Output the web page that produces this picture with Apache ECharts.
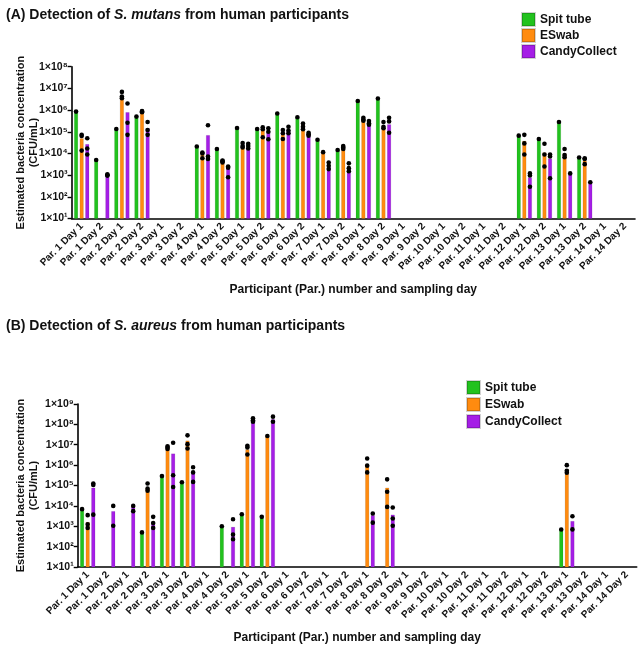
<!DOCTYPE html>
<html>
<head>
<meta charset="utf-8">
<script src="https://cdn.jsdelivr.net/npm/echarts@6/dist/echarts.min.js"></script>
<style>
html,body{margin:0;padding:0;background:#fff;}
#chart{width:640px;height:649px;}
</style>
</head>
<body>
<div id="chart"></div>
<script>
// categories
var cats = ['Par. 1 Day 1','Par. 1 Day 2','Par. 2 Day 1','Par. 2 Day 2','Par. 3 Day 1','Par. 3 Day 2',
    'Par. 4 Day 1','Par. 4 Day 2','Par. 5 Day 1','Par. 5 Day 2','Par. 6 Day 1','Par. 6 Day 2',
    'Par. 7 Day 1','Par. 7 Day 2','Par. 8 Day 1','Par. 8 Day 2','Par. 9 Day 1','Par. 9 Day 2',
    'Par. 10 Day 1','Par. 10 Day 2','Par. 11 Day 1','Par. 11 Day 2','Par. 12 Day 1','Par. 12 Day 2',
    'Par. 13 Day 1','Par. 13 Day 2','Par. 14 Day 1','Par. 14 Day 2'];
var seriesNames = ['Spit tube','ESwab','CandyCollect'];

// (A) S. mutans - bar heights (CFU/mL)
var mutansSpit = [8.5e5,5e3,1.35e5,5e5,null,null,2.1e4,1.6e4,1.5e5,1.35e5,7e5,4.7e5,4.3e4,1.45e4,2.6e6,3.4e6,
    null,null,null,null,null,null,6.6e4,4.6e4,2.8e5,6.5e3,null,null];
var mutansESwab = [5e4,null,4.2e6,8.5e5,null,null,9e3,4.3e3,1.9e4,1.3e5,9e4,2.2e5,1.15e4,2.1e4,3.5e5,1.5e5,
    null,null,null,null,null,null,3.8e4,1.1e4,1e4,4.6e3,null,null];
var mutansCandy = [2.7e4,1e3,8e5,1.45e5,null,null,7e4,2.1e3,1.9e4,1e5,1.1e5,8.5e4,2.5e3,2.3e3,2.6e5,2.2e5,
    null,null,null,null,null,null,7.8e2,5.8e3,1.2e3,4.7e2,null,null];
// (A) individual replicates
var mutansESwabPts = [[7.2e4,6.4e4,1.35e4],[],[6.9e6,4.2e6,3.5e6],[9e5,8.5e5,8e5],[],[],
    [1.1e4,1e4,6e3],[4.7e3,4.4e3,3.8e3],[3e4,2.2e4,1.9e4],[1.6e5,1.3e5,5.6e4],[1.2e5,8.6e4,4.6e4],[2.4e5,1.7e5,1.3e5],
    [1.15e4],[2.2e4,1.9e4,1.6e4],[4.4e5,3.7e5,3.2e5],[2.8e5,1.7e5,1.45e5],[],[],[],[],[],[],
    [7.2e4,2.9e4,9e3],[2.8e4,9e3,2.5e3],[1.6e4,8.5e3,6.7e3],[6e3,5.5e3,3.2e3],[],[]];
var mutansCandyPts = [[5e4,1.7e4,9e3],[1.1e3,1e3,9.5e2],[2e6,2.6e5,7.2e4],[2.8e5,1.2e5,7.2e4],[],[],
    [2e5,7.2e3,5.6e3],[2.5e3,2.2e3,8e2],[2.8e4,2.2e4,1.7e4],[1.45e5,1e5,4.5e4],[1.7e5,1.15e5,8.6e4],[9e4,7.7e4,6.5e4],
    [3.8e3,2.7e3,1.9e3],[3.5e3,2.1e3,1.5e3],[3.1e5,2.5e5,2.1e5],[4.4e5,3e5,9e4],[],[],[],[],[],[],
    [1.2e3,9.6e2,2.9e2],[9e3,7.2e3,7.2e2],[1.2e3],[4.7e2],[],[]];

// (B) S. aureus - bar heights (CFU/mL)
var aureusSpit = [6.9e3,null,null,5e2,2.9e5,1.45e5,null,1e3,3.9e3,2.9e3,null,null,null,null,null,null,
    null,null,null,null,null,null,null,null,6.9e2,null,null,null];
var aureusESwab = [1.6e3,null,null,7.8e4,7.4e6,1.6e7,null,null,5.9e6,2.7e7,null,null,null,null,1.1e6,7.8e4,
    null,null,null,null,null,null,null,null,6.3e5,null,null,null];
var aureusCandy = [7.8e4,5.5e3,1e4,1.45e3,3.7e6,4.7e5,null,9.3e2,1.45e8,1.8e8,null,null,null,null,3.5e3,3.7e3,
    null,null,null,null,null,null,null,null,1.8e3,null,null,null];
// (B) individual replicates
var aureusESwabPts = [[3.5e3,1.26e3,8.3e2],[],[],[1.26e5,7e4,5.5e4],[8.5e6,7.4e6,6.2e6],[2.9e7,1.07e7,6.6e6],
    [],[],[8.9e6,7.4e6,3.3e6],[2.7e7],[],[],[],[],[2.1e6,9.4e5,4.4e5],[2e5,4.9e4,8.9e3],
    [],[],[],[],[],[],[],[],[1e6,5.3e5,4.2e5],[],[],[]];
var aureusCandyPts = [[1.26e5,1.05e5,3.7e3],[1e4,1.05e3],[1e4,5.5e3],[2.9e3,1.45e3,8.3e2],[1.26e7,3.2e5,8.5e4],[7.8e5,4.4e5,1.5e5],
    [],[2.2e3,3.9e2,2.3e2],[2e8,1.6e8,1.35e8],[2.4e8,1.35e8],[],[],[],[],[4.2e3,1.5e3],[8.3e3,2.4e3,1.05e3],
    [],[],[],[],[],[],[],[],[3.1e3,7e2],[],[],[]];

var colors = ['#22c21e','#ff8b0f','#a51ee6'];
var FONT = 'Liberation Sans, Arial, DejaVu Sans, sans-serif';
var SUP = {'0':'⁰','1':'¹','2':'²','3':'³','4':'⁴','5':'⁵','6':'⁶','7':'⁷','8':'⁸','9':'⁹'};

function expLabel(v) {
    var e = Math.round(Math.log(v) / Math.LN10);
    return '1×10' + String(e).split('').map(function (d) { return SUP[d]; }).join('');
}

// 把每个样本点做成 [类别, 值, 偏移]
function dots(spit, eswabPts, candyPts) {
    var out = [];
    for (var i = 0; i < cats.length; i++) {
        if (spit[i] != null) out.push([i, spit[i], -1]);
        eswabPts[i].forEach(function (v) { out.push([i, v, 0]); });
        candyPts[i].forEach(function (v) { out.push([i, v, 1]); });
    }
    return out;
}

function renderDot(params, api) {
    var p = api.coord([api.value(0), api.value(1)]);
    return {
        type: 'circle',
        shape: { cx: p[0] + api.value(2) * 5.6, cy: p[1], r: 2.3 },
        style: { fill: '#000' }
    };
}

function xAxisCfg(gi) {
    return {
        type: 'category', gridIndex: gi, data: cats,
        axisLine: { lineStyle: { color: '#000', width: 1.6 } },
        axisTick: { alignWithLabel: true, length: 4, lineStyle: { color: '#000', width: 1.4 } },
        axisLabel: { rotate: 45, interval: 0, fontSize: 10, fontWeight: 'bold', color: '#111', fontFamily: FONT, margin: 6 },
        name: 'Participant (Par.) number and sampling day', nameLocation: 'middle', nameGap: 65,
        nameTextStyle: { fontSize: 12, fontWeight: 'bold', color: '#111', fontFamily: FONT }
    };
}

function yAxisCfg(gi, maxV, gap) {
    return {
        type: 'log', logBase: 10, gridIndex: gi, min: 10, max: maxV,
        splitNumber: 8,
        axisLine: { show: true, lineStyle: { color: '#000', width: 1.6 } },
        axisTick: { show: true, length: 4, lineStyle: { color: '#000', width: 1.4 } },
        splitLine: { show: false },
        minorTick: { show: false },
        axisLabel: { formatter: expLabel, fontSize: 10.5, fontWeight: 'bold', color: '#111', fontFamily: FONT, margin: 4 },
        name: 'Estimated bacteria concentration\n(CFU/mL)', nameLocation: 'middle', nameGap: gap, nameRotate: 90,
        nameMoveOverlap: false,
        nameTextStyle: { fontSize: 11, fontWeight: 'bold', color: '#111', fontFamily: FONT, lineHeight: 13 }
    };
}

function barSeries(name, data, ax, ci) {
    return {
        name: name, type: 'bar', xAxisIndex: ax, yAxisIndex: ax, data: data,
        barWidth: 4, barGap: '40%',
        itemStyle: { color: colors[ci], borderColor: 'rgba(0,0,0,0.18)', borderWidth: 0.5 }
    };
}

var legendBase = {
    data: seriesNames, orient: 'vertical', icon: 'rect', itemWidth: 13, itemHeight: 13, itemGap: 2,
    padding: 0,
    textStyle: { fontSize: 12, fontWeight: 'bold', color: '#111', fontFamily: FONT, lineHeight: 14 }
};

var myChart = echarts.init(document.getElementById('chart'));
var option = {
    animation: false,
    color: colors,
    title: [{
        text: '{n|(A) Detection of }{i|S. mutans}{n| from human participants}',
        left: 1, top: 3,
        textStyle: { rich: {
            n: { fontSize: 14, color: '#111', fontFamily: FONT },
            i: { fontSize: 14, color: '#111', fontFamily: FONT, fontStyle: 'italic' }
        } }
    }, {
        text: '{n|(B) Detection of }{i|S. aureus}{n| from human participants}',
        left: 1, top: 314,
        textStyle: { rich: {
            n: { fontSize: 14, color: '#111', fontFamily: FONT },
            i: { fontSize: 14, color: '#111', fontFamily: FONT, fontStyle: 'italic' }
        } }
    }],
    legend: [
        Object.assign({}, legendBase, { left: 521, top: 12, itemGap: 1 }),
        Object.assign({}, legendBase, { left: 466, top: 380 })
    ],
    grid: [
        { left: 71.6, top: 66.7, width: 563.4, height: 151.8, containLabel: false, outerBoundsMode: 'none' },
        { left: 77.7, top: 404, width: 559, height: 163, containLabel: false, outerBoundsMode: 'none' }
    ],
    xAxis: [xAxisCfg(0), xAxisCfg(1)],
    yAxis: [yAxisCfg(0, 1e8, 31), yAxisCfg(1, 1e9, 37)],
    series: [
        barSeries('Spit tube', mutansSpit, 0, 0),
        barSeries('ESwab', mutansESwab, 0, 1),
        barSeries('CandyCollect', mutansCandy, 0, 2),
        barSeries('Spit tube', aureusSpit, 1, 0),
        barSeries('ESwab', aureusESwab, 1, 1),
        barSeries('CandyCollect', aureusCandy, 1, 2),
        { type: 'custom', xAxisIndex: 0, yAxisIndex: 0, renderItem: renderDot,
          data: dots(mutansSpit, mutansESwabPts, mutansCandyPts), z: 5 },
        { type: 'custom', xAxisIndex: 1, yAxisIndex: 1, renderItem: renderDot,
          data: dots(aureusSpit, aureusESwabPts, aureusCandyPts), z: 5 }
    ]
};
myChart.setOption(option);
</script>
</body>
</html>
